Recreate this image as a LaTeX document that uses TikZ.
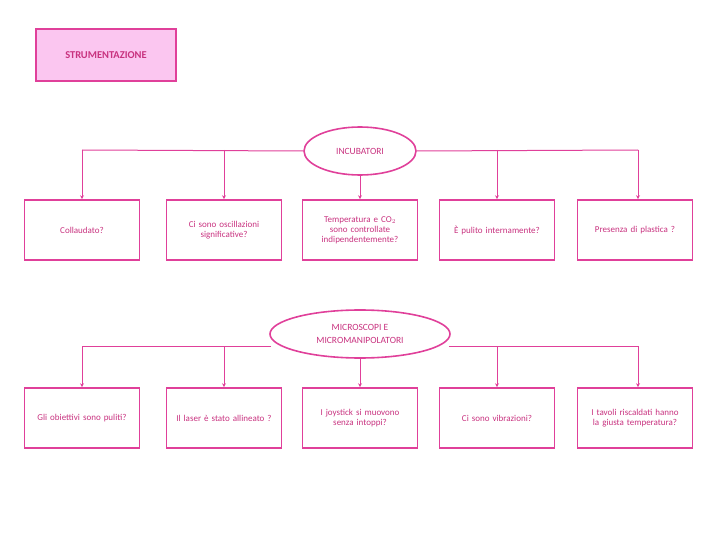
\documentclass[tikz,border=0pt]{standalone}
\usepackage{fontspec}
\setmainfont{Carlito}
\usetikzlibrary{shapes.geometric,arrows.meta}
\definecolor{pk}{HTML}{E0409A}
\definecolor{pkf}{HTML}{FBC6F0}
\definecolor{tx}{HTML}{C8327F}
\begin{document}
\begin{tikzpicture}[x=1pt,y=-1pt,
  box/.style={draw=pk,line width=1.6pt,minimum width=114pt,minimum height=60pt,align=center,font=\fontsize{9}{10}\selectfont,text=tx,text width=108pt},
  ell/.style={ellipse,draw=pk,line width=1.6pt,align=center,font=\fontsize{9.5}{13}\selectfont,text=tx,inner sep=1pt},
  ln/.style={draw=pk,line width=1pt},
  arr/.style={ln,-{Stealth[length=4pt,width=4pt]}}]
\useasboundingbox (0,0) rectangle (720,540);
\node[draw=pk,fill=pkf,line width=2pt,minimum width=140pt,minimum height=52pt,text=tx,font=\bfseries\fontsize{10.5}{12}\selectfont] (t) at (106,55) {STRUMENTAZIONE};
% row 1
\node[ell,minimum width=112pt,minimum height=48pt] (inc) at (360,151) {INCUBATORI};
\node[box] (a1) at (82,230) {Collaudato?};
\node[box] (a2) at (224,230) {Ci sono oscillazioni\\significative?};
\node[box] (a3) at (360,230) {Temperatura e CO$_2$\\sono controllate\\indipendentemente?};
\node[box] (a4) at (497,230) {È pulito internamente?};
\node[box] (a5) at (635,230) {Presenza di plastica ?};
\coordinate (l1) at (82,150); \coordinate (l2) at (224,150);
\coordinate (r1) at (497,150); \coordinate (r2) at (638,150);
\draw[ln] (inc.west) -- (l1); \draw[ln] (inc.east) -- (r2);
\draw[arr] (l1) -- (a1.north); \draw[arr] (l2) -- (a2.north);
\draw[arr] (inc.south) -- (a3.north);
\draw[arr] (r1) -- (a4.north); \draw[arr] (r2) -- (a5.north-|r2);
% row 2
\node[ell,minimum width=180pt,minimum height=48pt] (mic) at (360,334) {MICROSCOPI E\\MICROMANIPOLATORI};
\node[box] (b1) at (82,418) {Gli obiettivi sono puliti?};
\node[box] (b2) at (224,418) {Il laser è stato allineato ?};
\node[box] (b3) at (360,418) {I joystick si muovono\\senza intoppi?};
\node[box] (b4) at (497,418) {Ci sono vibrazioni?};
\node[box] (b5) at (635,418) {I tavoli riscaldati hanno\\la giusta temperatura?};
\coordinate (m1) at (82,346); \coordinate (m2) at (224,346);
\coordinate (n1) at (497,346); \coordinate (n2) at (638,346);
\draw[ln] (mic.west|-m1) ++(2,0) -- (m1);
\draw[ln] (mic.east|-n2) ++(-2,0) -- (n2);
\draw[arr] (m1) -- (b1.north); \draw[arr] (m2) -- (b2.north);
\draw[arr] (mic.south) -- (b3.north);
\draw[arr] (n1) -- (b4.north); \draw[arr] (n2) -- (b5.north-|n2);
\end{tikzpicture}
\end{document}
